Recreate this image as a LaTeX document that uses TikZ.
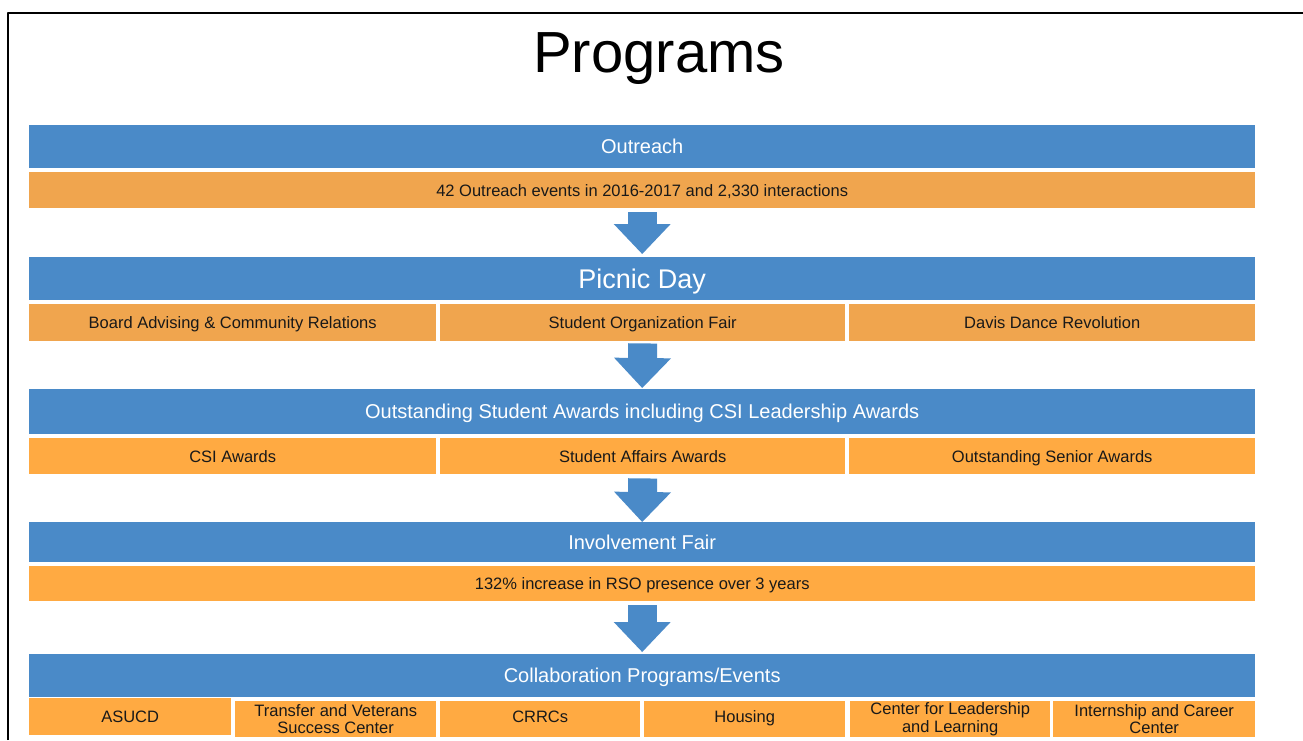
\documentclass[tikz,border=0pt]{standalone}
\usepackage{fontspec}
\setmainfont{Liberation Sans}
\usetikzlibrary{arrows.meta}
\definecolor{barblue}{HTML}{4A8AC8}
\definecolor{boxorange}{HTML}{FFAA42}
\definecolor{dotorange}{HTML}{F0A54E}
\begin{document}
\begin{tikzpicture}[x=1pt, y=-1pt, line join=round,
  bar/.style={fill=barblue, text=white, anchor=north west, inner sep=0pt, minimum width=1226pt, text height=14.3pt, text depth=0pt, font=\fontsize{20}{24}\selectfont},
  cell/.style={fill=boxorange, text=black!90, anchor=north west, inner sep=0pt, align=center, font=\fontsize{16.5}{17}\selectfont},
  oneline/.style={cell, text height=11.9pt, text depth=0pt},
  dotcell/.style={oneline, fill=dotorange},
  flow/.style={barblue, line width=29pt, -{Triangle[width=57pt, length=30pt, line width=0pt]}}]
\useasboundingbox (0,0) rectangle (1303,740);
\draw[line width=2pt] (8,740) -- (8,13) -- (1303,13);
\node[anchor=base, font=\fontsize{58}{60}\selectfont] (title) at (659,72) {Programs};
%Outreach
\node[bar, minimum height=43pt] (b1) at (29,125) {Outreach};
\node[dotcell, minimum width=1226pt, minimum height=36pt] (c1) at (29,172) {42 Outreach events in 2016-2017 and 2,330 interactions};
%Picnic Day
\node[bar, minimum height=43pt, text height=19.4pt, font=\fontsize{27}{30}\selectfont] (b2) at (29,257) {Picnic Day};
\foreach \x/\w/\n/\t in {29/407/1/Board Advising \& Community Relations, 440/405/2/Student Organization Fair, 849/406/3/Davis Dance Revolution}
  \node[dotcell, minimum width=\w pt, minimum height=37pt] (c2\n) at (\x,304) {\t};
%Outstanding Student Awards
\node[bar, minimum height=45pt] (b3) at (29,389) {Outstanding Student Awards including CSI Leadership Awards};
\foreach \x/\w/\n/\t in {29/407/1/CSI Awards, 440/405/2/Student Affairs Awards, 849/406/3/Outstanding Senior Awards}
  \node[oneline, minimum width=\w pt, minimum height=36pt] (c3\n) at (\x,438) {\t};
%Involvement Fair
\node[bar, minimum height=40pt] (b4) at (29,522) {Involvement Fair};
\node[oneline, minimum width=1226pt, minimum height=35pt] (c4) at (29,566) {132\% increase in RSO presence over 3 years};
%Collaboration
\node[bar, minimum height=43pt] (b5) at (29,654) {Collaboration Programs/Events};
\node[oneline, minimum width=202pt, minimum height=37pt] (c51) at (29,698) {ASUCD};
\foreach \x/\w/\n/\t in {{235/201/2/Transfer and Veterans\\Success Center}, {440/200/3/CRRCs}, {644/201/4/Housing}, {850/200/5/Center for Leadership\\and Learning}, {1053/202/6/Internship and Career\\Center}}
  \node[cell, minimum width=\w pt, minimum height=36pt] (c5\n) at (\x,701) {\strut\t};
%arrows
\draw[flow] ([yshift=-4pt]c1.south) -- ([yshift=3pt]b2.north);
\draw[flow] ([yshift=-2pt]c22.south) -- ([yshift=1pt]b3.north);
\draw[flow] ([yshift=-4pt]c32.south) -- (b4.north);
\draw[flow] ([yshift=-4pt]c4.south) -- ([yshift=2pt]b5.north);
\end{tikzpicture}
\end{document}
